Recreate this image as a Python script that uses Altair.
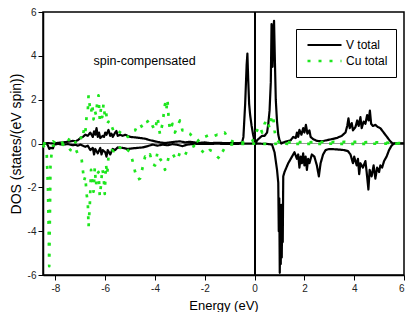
import altair as alt
import pandas as pd

# ---- data ----
series_names = ["V total", "Cu total"]
series_colors = ["#000000", "#1ee61e"]

v_up_e = [-8.5,-8.3,-8.1,-7.9,-7.7,-7.5,-7.4,-7.3,-7.2,-7.1,-7.0,-6.9,-6.8,-6.7,-6.6,
          -6.5,-6.45,-6.4,-6.35,-6.3,-6.25,-6.2,-6.1,-6.05,-6.0,-5.95,-5.87,-5.8,-5.75,-5.7,
          -5.6,-5.55,-5.5,-5.4,-5.3,-5.2,-5.0,-4.8,-4.6,-4.4,-4.2,-4.0,-3.8,-3.6,-3.4,
          -3.2,-3.0,-2.8,-2.6,-2.4,-2.2,-2.0,-1.8,-1.5,-1.2,-0.9,-0.6,-0.5,-0.45,-0.38,
          -0.32,-0.29,-0.26,-0.22,-0.18,-0.12,-0.06,0.0,0.05,0.1,0.2,0.3,0.4,0.5,0.55,
          0.6,0.65,0.68,0.72,0.75,0.78,0.81,0.85,0.9,0.95,1.0,1.07,1.15,1.3,1.45,
          1.55,1.65,1.7,1.75,1.8,1.88,1.95,2.0,2.06,2.12,2.2,2.25,2.35,2.5,2.7,
          2.9,3.1,3.3,3.5,3.65,3.72,3.77,3.82,3.9,3.95,4.05,4.12,4.18,4.25,4.3,
          4.38,4.45,4.52,4.58,4.63,4.68,4.75,4.85,4.95,5.05,5.15,5.25,5.35,5.45,5.55,
          5.7,6.0]
v_up_d = [0,0.02,0,0.03,0.05,0.08,0.1,0.12,0.1,0.15,0.25,0.3,0.4,0.35,0.5,
          0.3,0.55,0.4,0.7,0.3,0.5,0.25,0.35,0.3,0.5,0.4,0.62,0.35,0.45,0.3,
          0.5,0.57,0.35,0.4,0.35,0.4,0.3,0.28,0.25,0.22,0.15,0.1,0.05,0.02,0.05,
          0.08,0.1,0.05,0.08,0.05,0.03,0.05,0.02,0.03,0.02,0.02,0.02,0.05,0.3,1.8,
          3.6,4.1,3.0,1.8,1.3,0.8,0.4,0.1,0.0,0.15,0.25,0.35,0.35,0.5,0.9,
          1.5,2.8,5.45,3.5,5.0,5.6,4.0,2.0,1.0,0.4,0.15,0.0,0.05,0.1,0.15,
          0.3,0.25,0.5,0.3,0.62,0.4,0.7,0.5,0.85,0.45,0.6,0.3,0.2,0.12,0.1,
          0.15,0.2,0.25,0.35,0.5,0.8,1.15,0.7,0.93,0.6,0.75,1.05,0.8,1.2,0.7,
          1.0,0.9,1.3,1.05,1.5,0.9,0.8,0.85,0.75,0.7,0.55,0.4,0.25,0.1,0.0,
          0.02,0.0]

v_dn_e = [-8.5,-8.35,-8.3,-8.25,-8.2,-8.1,-8.05,-7.9,-7.7,-7.5,-7.3,-7.2,-7.1,-7.0,-6.9,
          -6.8,-6.7,-6.6,-6.5,-6.45,-6.4,-6.3,-6.2,-6.15,-6.1,-6.0,-5.95,-5.9,-5.8,-5.7,
          -5.6,-5.5,-5.3,-5.1,-4.9,-4.7,-4.5,-4.3,-4.1,-3.9,-3.7,-3.5,-3.3,-3.1,-2.9,
          -2.7,-2.5,-2.0,-1.5,-1.0,-0.5,0.0,0.5,0.7,0.8,0.9,0.95,0.97,0.99,1.01,
          1.03,1.05,1.07,1.09,1.11,1.13,1.15,1.2,1.35,1.5,1.6,1.7,1.75,1.8,1.85,
          1.9,1.95,2.0,2.05,2.1,2.15,2.2,2.3,2.4,2.5,2.58,2.65,2.75,2.85,3.0,
          3.3,3.6,3.75,3.85,3.95,4.0,4.1,4.15,4.2,4.25,4.35,4.45,4.5,4.57,4.62,
          4.7,4.78,4.85,4.92,5.0,5.05,5.12,5.2,5.3,5.4,5.5,5.6,6.0]
v_dn_d = [0,-0.02,-0.1,-0.25,-0.2,-0.22,-0.05,-0.02,-0.05,-0.03,-0.08,-0.05,-0.1,-0.05,-0.1,
          -0.15,-0.1,-0.3,-0.2,-0.5,-0.25,-0.45,-0.2,-0.5,-0.3,-0.4,-0.6,-0.3,-0.5,-0.25,
          -0.3,-0.18,-0.2,-0.25,-0.22,-0.2,-0.18,-0.12,-0.05,-0.1,-0.05,-0.08,-0.03,-0.06,-0.12,
          -0.05,-0.02,-0.02,-0.01,-0.02,-0.01,0,-0.02,-0.05,-0.4,-1.2,-1.8,-4.0,-2.5,-5.9,
          -3.5,-5.5,-2.8,-5.2,-3.0,-4.5,-1.5,-1.3,-0.9,-0.6,-0.4,-0.7,-0.5,-1.1,-0.6,
          -0.9,-0.45,-1.0,-0.6,-1.2,-0.7,-0.9,-0.5,-0.6,-1.0,-1.5,-0.9,-0.5,-0.3,-0.25,
          -0.27,-0.3,-0.35,-0.5,-0.9,-0.6,-1.0,-0.7,-1.4,-0.9,-1.1,-0.8,-1.3,-2.1,-1.2,
          -1.5,-1.0,-1.6,-1.1,-1.3,-1.0,-1.1,-0.8,-0.6,-0.3,-0.1,0.0,0.0]

cu_up_e = [-8.5,-8.4,-8.3,-8.2,-8.1,-8.0,-7.9,-7.8,-7.7,-7.6,-7.5,-7.4,-7.3,-7.2,-7.1,
           -7.0,-6.95,-6.9,-6.85,-6.8,-6.75,-6.7,-6.67,-6.62,-6.57,-6.52,-6.47,-6.42,-6.37,-6.32,
           -6.27,-6.22,-6.17,-6.12,-6.07,-6.02,-5.97,-5.92,-5.87,-5.8,-5.73,-5.66,-5.58,-5.5,-5.4,
           -5.3,-5.2,-5.1,-5.0,-4.9,-4.8,-4.7,-4.6,-4.5,-4.4,-4.3,-4.2,-4.1,-4.0,-3.9,
           -3.8,-3.7,-3.6,-3.55,-3.5,-3.45,-3.4,-3.3,-3.2,-3.1,-3.0,-2.9,-2.8,-2.7,-2.6,
           -2.5,-2.4,-2.3,-2.2,-2.1,-2.0,-1.9,-1.8,-1.7,-1.6,-1.5,-1.4,-1.3,-1.2,-1.1,
           -1.0,-0.9,-0.8,-0.7,-0.6,-0.5,-0.4,-0.3,-0.2,-0.1,0.0,0.1,0.2,0.3,0.4,
           0.5,0.6,0.7,0.75,0.8,0.85,0.9,1.0,1.2,1.4,1.6,1.8,2.0,2.2,2.4,
           2.6,2.8,3.0,3.2,3.4,3.6,3.8,4.0,4.2,4.4,4.6,4.8,5.0,5.2,5.4,
           5.6,5.8,6.0]
cu_up_d = [0.02,0.0,0.05,0.0,0.1,0.02,0.05,0.15,0.0,0.2,0.1,0.3,0.25,0.05,0.2,
           0.1,0.4,0.3,0.7,0.5,1.2,1.5,2.2,1.7,1.4,1.8,1.1,1.5,1.3,1.9,
           2.2,1.1,1.6,1.2,1.8,1.3,1.5,0.9,1.0,0.7,0.75,0.55,0.65,0.6,0.5,
           0.45,0.5,0.3,0.35,0.55,0.6,0.85,0.9,0.7,0.95,1.0,1.1,0.8,0.6,1.2,
           0.4,0.9,1.8,1.5,2.0,1.1,0.6,0.9,0.5,0.8,1.05,0.6,0.65,0.5,0.45,
           0.3,0.25,0.1,0.2,0.15,0.3,0.35,0.4,0.3,0.35,0.4,0.35,0.45,0.5,0.3,
           0.15,0.1,0.05,0.05,0.02,0.05,0.03,0.05,0.02,0.1,0.3,0.6,0.8,0.5,0.9,
           1.1,0.7,1.3,1.2,0.6,0.25,0.15,0.05,0.08,0.05,0.1,0.06,0.08,0.05,0.07,
           0.05,0.08,0.06,0.07,0.05,0.08,0.06,0.07,0.08,0.05,0.07,0.06,0.05,0.04,0.03,
           0.0,0.02,0.0]

cu_dn_e = [-8.5,-8.4,-8.35,-8.3,-8.27,-8.25,-8.22,-8.2,-8.15,-8.1,-8.0,-7.9,-7.8,-7.7,-7.6,
           -7.5,-7.4,-7.3,-7.2,-7.1,-7.0,-6.95,-6.9,-6.85,-6.8,-6.75,-6.7,-6.67,-6.62,-6.57,
           -6.52,-6.47,-6.42,-6.37,-6.32,-6.27,-6.22,-6.17,-6.12,-6.07,-6.02,-5.97,-5.92,-5.87,-5.8,
           -5.73,-5.66,-5.58,-5.5,-5.4,-5.3,-5.2,-5.1,-5.0,-4.9,-4.8,-4.7,-4.6,-4.5,-4.4,
           -4.3,-4.2,-4.1,-4.0,-3.9,-3.8,-3.7,-3.6,-3.55,-3.5,-3.45,-3.4,-3.3,-3.2,-3.1,
           -3.0,-2.9,-2.8,-2.7,-2.6,-2.5,-2.4,-2.3,-2.2,-2.1,-2.0,-1.9,-1.8,-1.7,-1.6,
           -1.5,-1.4,-1.3,-1.2,-1.1,-1.0,-0.5,0.0,0.5,1.0,2.0,3.0,4.0,5.0,6.0]
cu_dn_d = [-0.05,-0.3,-0.5,-2.0,-4.0,-5.6,-3.0,-1.0,-0.4,-0.1,-0.05,-0.1,0.0,-0.05,-0.15,
           -0.1,-0.3,-0.35,-0.2,-0.5,-0.65,-0.7,-1.2,-1.7,-1.5,-2.3,-2.7,-3.8,-2.8,-1.2,
           -1.75,-2.2,-1.1,-1.9,-1.4,-1.3,-2.4,-1.9,-1.15,-1.45,-2.3,-0.95,-1.4,-0.6,-0.5,
           -0.3,-0.35,-0.2,-0.1,-0.2,-0.1,-0.15,-0.3,-0.4,-0.8,-1.3,-1.65,-1.6,-1.1,-0.6,
           -0.7,-0.5,-0.95,-1.0,-0.4,-0.7,-0.85,-1.2,-1.0,-0.85,-0.6,-0.5,-0.45,-0.65,-0.75,
           -0.4,-0.5,-0.55,-0.3,-0.2,-0.15,-0.1,-0.2,-0.25,-0.35,-0.5,-0.4,-0.3,-0.35,-0.5,
           -0.6,-0.7,-0.4,-0.2,-0.1,-0.05,-0.02,-0.01,-0.02,-0.01,-0.02,-0.01,-0.02,-0.01,0.0]

x_ticks = [-8,-7,-6,-5,-4,-3,-2,-1,0,1,2,3,4,5,6]
y_ticks = [-6,-5,-4,-3,-2,-1,0,1,2,3,4,5,6]

note_text = ["spin-compensated"]
note_e = [-6.47]
note_d = [3.75]

# ---- tables ----
def part(e, d, name, spin):
    return pd.DataFrame({"E": e, "D": d, "series": name, "key": name + " " + spin})

df = pd.concat([
    part(v_up_e, v_up_d, "V total", "up"),
    part(v_dn_e, v_dn_d, "V total", "down"),
    part(cu_up_e, cu_up_d, "Cu total", "up"),
    part(cu_dn_e, cu_dn_d, "Cu total", "down"),
], ignore_index=True)
note_df = pd.DataFrame({"E": note_e, "D": note_d, "t": note_text})

FONT = "Liberation Sans"

x_scale = alt.Scale(domain=[-8.5, 6], nice=False, zero=False)
y_scale = alt.Scale(domain=[-6, 6], nice=False, zero=False)

odd_test = "datum.value % 2 != 0"
x_axis = alt.Axis(values=x_ticks, title="Energy (eV)", grid=False,
                  labelExpr="datum.value % 2 ? '' : '' + datum.value",
                  tickSize={"condition": {"test": odd_test, "value": 3}, "value": 5},
                  tickColor="black", domainColor="black", domainWidth=1.5,
                  labelFont=FONT, labelFontSize=10, labelColor="#222",
                  labelPadding=3, titleFont=FONT, titleFontSize=13,
                  titleFontWeight="normal", titleColor="black", titlePadding=6)
y_axis = alt.Axis(values=y_ticks, title="DOS (states/(eV spin))", grid=False,
                  labelExpr="datum.value % 2 ? '' : '' + datum.value",
                  tickSize={"condition": {"test": odd_test, "value": 3}, "value": 5},
                  tickColor="black", domainColor="black", domainWidth=1.5,
                  labelFont=FONT, labelFontSize=10, labelColor="#222",
                  labelPadding=2, titleFont=FONT, titleFontSize=14,
                  titleFontWeight="normal", titleColor="black", titlePadding=3.5)

legend = alt.Legend(title=None, orient="none", legendX=253, legendY=17,
                    direction="vertical", symbolType="stroke", symbolSize=1156,
                    clipHeight=16, labelFont=FONT, labelFontSize=12,
                    labelColor="black", strokeColor="black", fillColor="white",
                    padding=8, labelOffset=3, rowPadding=0, symbolOffset=2)

X = alt.X("E:Q", scale=x_scale, axis=x_axis)
Y = alt.Y("D:Q", scale=y_scale, axis=y_axis)

hline = alt.Chart(df).mark_rule(color="#999999", strokeWidth=1).encode(y=alt.datum(0))
vline = alt.Chart(df).mark_rule(color="black", strokeWidth=1.2).encode(x=alt.datum(0))

lines = alt.Chart(df).mark_line(strokeJoin="round").encode(
    x=X, y=Y,
    color=alt.Color("series:N", scale=alt.Scale(domain=series_names, range=series_colors), legend=legend),
    strokeDash=alt.StrokeDash("series:N", scale=alt.Scale(domain=series_names, range=[[1, 0], [3, 8]]), legend=legend),
    strokeWidth=alt.StrokeWidth("series:N", scale=alt.Scale(domain=series_names, range=[2.2, 2.7]), legend=legend),
    detail="key:N",
)

note = alt.Chart(note_df).mark_text(align="left", baseline="middle", font=FONT,
                                    fontSize=12.5, color="black").encode(
    x=alt.X("E:Q"), y=alt.Y("D:Q"), text="t:N")

chart = alt.layer(hline, vline, lines, note).properties(
    width=361, height=263,
    padding={"left": 1, "top": -1, "right": 0, "bottom": 0},
).configure_view(stroke="black", strokeWidth=1.5)

chart.save("out.html", embed_options={"renderer": "svg", "actions": False})
